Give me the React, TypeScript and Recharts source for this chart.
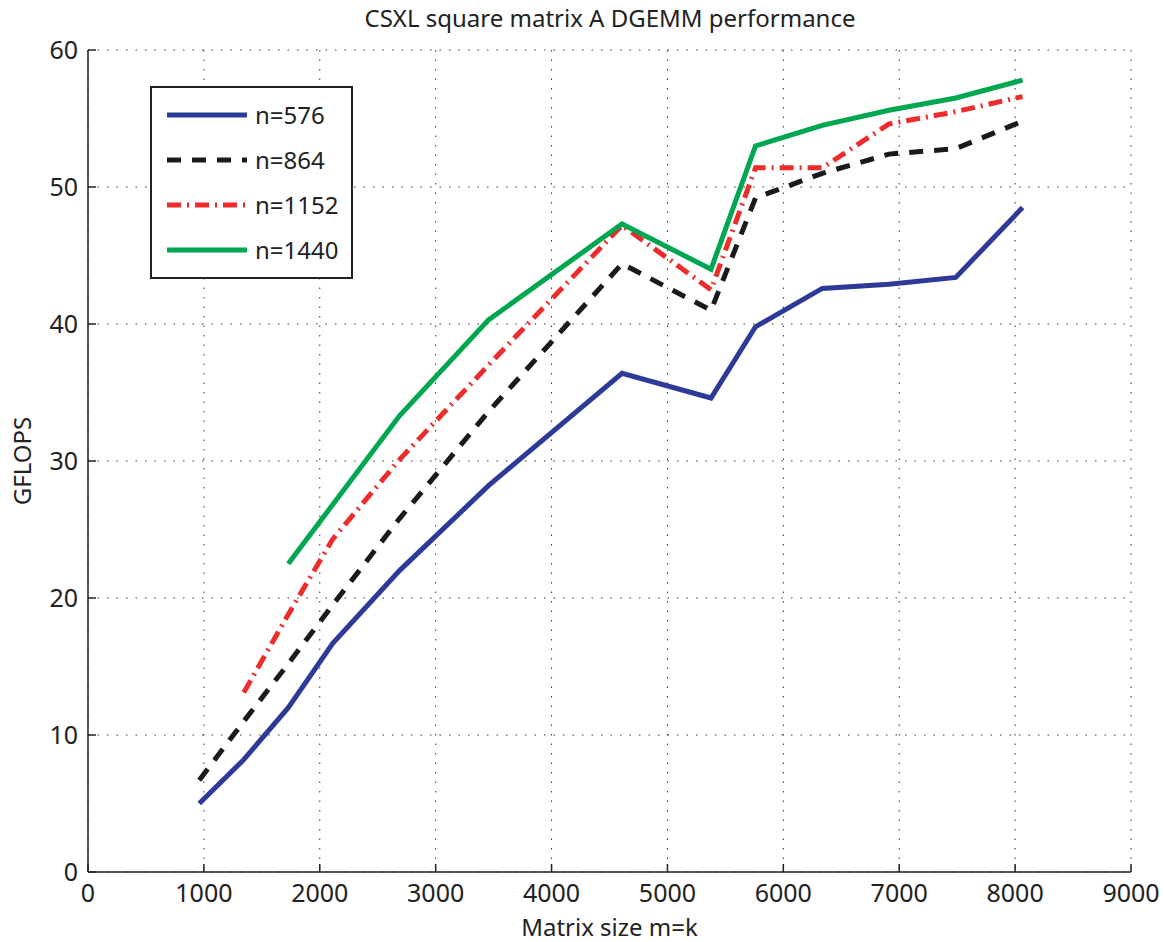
import React from "react";
import {
  LineChart,
  Line,
  XAxis,
  YAxis,
  CartesianGrid,
  Label
} from "recharts";

// matrix sizes m=k
const sizes576 = [960, 1344, 1728, 2112, 2688, 3456, 4608, 5376, 5760, 6336, 6912, 7488, 8064];
const gflops576 = [5.0, 8.2, 12.0, 16.7, 22.0, 28.2, 36.4, 34.6, 39.8, 42.6, 42.9, 43.4, 48.5];

const sizes864 = [960, 1344, 1728, 2112, 2688, 3456, 4608, 5376, 5760, 6336, 6912, 7488, 8064];
const gflops864 = [6.7, 11.0, 15.2, 19.5, 25.8, 33.6, 44.4, 41.0, 49.2, 51.0, 52.4, 52.8, 54.8];

const sizes1152 = [1344, 1728, 2112, 2688, 3456, 4608, 5376, 5760, 6336, 6912, 7488, 8064];
const gflops1152 = [13.1, 18.8, 24.3, 30.1, 37.0, 47.2, 42.5, 51.4, 51.4, 54.6, 55.5, 56.6];

const sizes1440 = [1728, 2688, 3456, 4608, 5376, 5760, 6336, 6912, 7488, 8064];
const gflops1440 = [22.5, 33.3, 40.3, 47.3, 44.0, 53.0, 54.5, 55.6, 56.5, 57.8];

const xTicks = [0, 1000, 2000, 3000, 4000, 5000, 6000, 7000, 8000, 9000];
const yTicks = [0, 10, 20, 30, 40, 50, 60];

const toRows = (xs: number[], ys: number[]) => xs.map((x, i) => ({ size: x, gflops: ys[i] }));

const series = [
  { name: "n=576", data: toRows(sizes576, gflops576), color: "#2e3a97", dash: undefined },
  { name: "n=864", data: toRows(sizes864, gflops864), color: "#1a1a1a", dash: "14 11" },
  { name: "n=1152", data: toRows(sizes1152, gflops1152), color: "#ee2c2c", dash: "14 6 2 6" },
  { name: "n=1440", data: toRows(sizes1440, gflops1440), color: "#00a650", dash: undefined }
];

const font = "'Noto Sans', 'Open Sans', sans-serif";
const textColor = "#222";

const LegendBox = () => (
  <div
    style={{
      position: "absolute",
      left: 150,
      top: 86,
      width: 199,
      height: 185,
      border: "2px solid #222",
      background: "#fff",
      paddingTop: 4,
      boxSizing: "content-box",
      fontFamily: font,
      fontSize: 24,
      color: textColor
    }}
  >
    {series.map(s => (
      <div key={s.name} style={{ display: "flex", alignItems: "center", height: 45 }}>
        <svg width={88} height={10} style={{ marginLeft: 15 }}>
          <line x1={0} y1={5} x2={80} y2={5} stroke={s.color} strokeWidth={5} strokeDasharray={s.dash} />
        </svg>
        <span style={{ lineHeight: "24px" }}>{s.name}</span>
      </div>
    ))}
  </div>
);

const App = () => {
  return (
    <div style={{ position: "absolute", left: 0, top: 0, width: 1164, height: 942, background: "#fff" }}>
      <div
        style={{
          position: "absolute",
          top: 1,
          left: 0,
          width: 1220,
          textAlign: "center",
          fontFamily: font,
          fontSize: 24,
          color: textColor
        }}
      >
        CSXL square matrix A DGEMM performance
      </div>
      <LineChart width={1164} height={942} margin={{ top: 50, right: 33, left: 0, bottom: 0 }}>
        <CartesianGrid stroke="#333" strokeDasharray="1.5 8" />
        <XAxis
          type="number"
          dataKey="size"
          domain={[0, 9000]}
          ticks={xTicks}
          height={70}
          axisLine={{ stroke: "#222", strokeWidth: 1.5 }}
          tickLine={{ stroke: "#222", strokeWidth: 1.5 }}
          tickSize={-8}
          tickMargin={20}
          tick={{ fill: textColor, fontSize: 25, fontFamily: font }}
          allowDataOverflow
        >
          <Label value="Matrix size m=k" position="insideBottom" offset={6} style={{ fill: textColor, fontSize: 24, fontFamily: font }} />
        </XAxis>
        <YAxis
          type="number"
          domain={[0, 60]}
          ticks={yTicks}
          width={88}
          axisLine={{ stroke: "#222", strokeWidth: 1.5 }}
          tickLine={{ stroke: "#222", strokeWidth: 1.5 }}
          tickSize={-8}
          tickMargin={18}
          tick={{ fill: textColor, fontSize: 25, fontFamily: font }}
        >
          <Label value="GFLOPS" angle={-90} position="insideLeft" offset={22} style={{ fill: textColor, fontSize: 24, fontFamily: font, textAnchor: "middle" }} />
        </YAxis>
        {series.map(s => (
          <Line
            key={s.name}
            data={s.data}
            dataKey="gflops"
            name={s.name}
            stroke={s.color}
            strokeWidth={5}
            strokeDasharray={s.dash}
            dot={false}
            activeDot={false}
            isAnimationActive={false}
          />
        ))}
      </LineChart>
      <LegendBox />
    </div>
  );
};

export default App;
